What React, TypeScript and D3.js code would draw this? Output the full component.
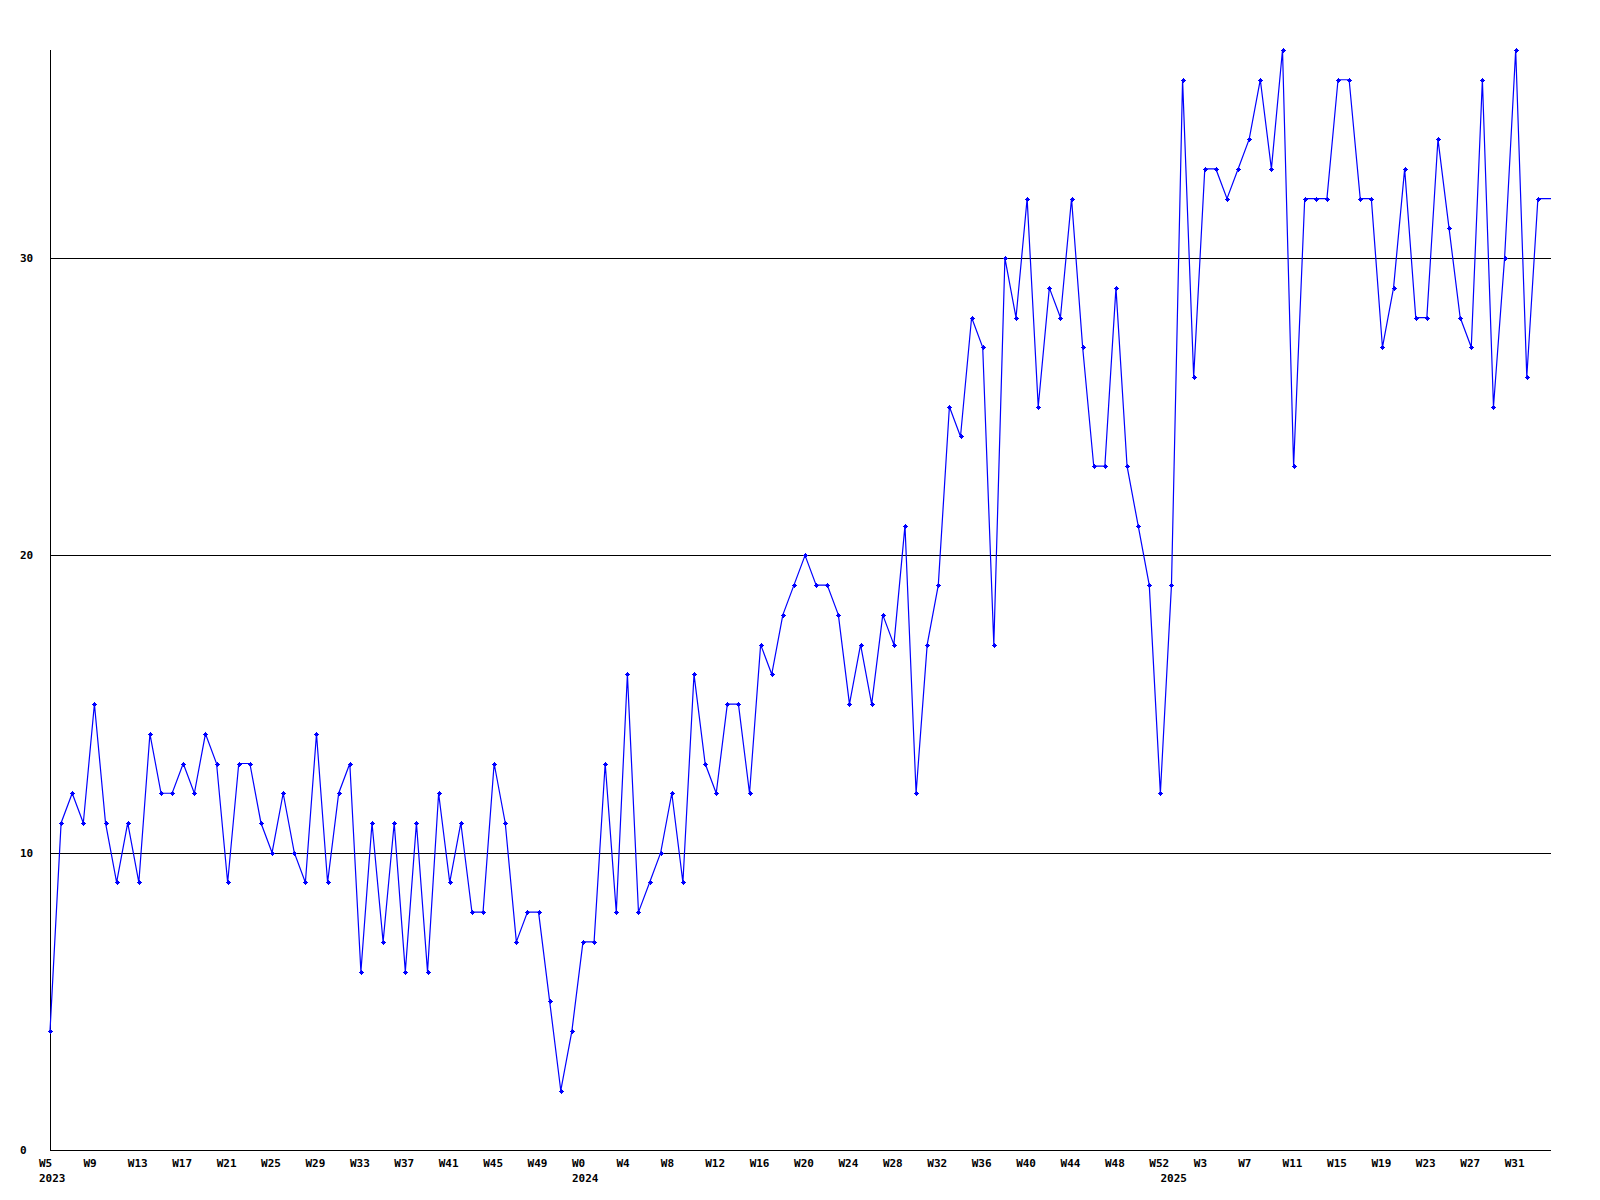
import React, { useEffect, useRef } from 'react';
import * as d3 from 'd3';

// weekly counts, W5 2023 .. W34 2025
const values: number[] = [
  4, 11, 12, 11, 15, 11, 9, 11, 9, 14, 12, 12, 13, 12, 14, 13, 9, 13, 13, 11,
  10, 12, 10, 9, 14, 9, 12, 13, 6, 11, 7, 11, 6, 11, 6, 12, 9, 11, 8, 8,
  13, 11, 7, 8, 8, 5, 2, 4, 7, 7, 13, 8, 16, 8, 9, 10, 12, 9, 16, 13,
  12, 15, 15, 12, 17, 16, 18, 19, 20, 19, 19, 18, 15, 17, 15, 18, 17, 21, 12, 17,
  19, 25, 24, 28, 27, 17, 30, 28, 32, 25, 29, 28, 32, 27, 23, 23, 29, 23, 21, 19,
  12, 19, 36, 26, 33, 33, 32, 33, 34, 36, 33, 37, 23, 32, 32, 32, 36, 36, 32, 32,
  27, 29, 33, 28, 28, 34, 31, 28, 27, 36, 25, 30, 37, 26, 32,
];

// one label every 4 weeks, starting at the first point
const tickLabels: string[] = [
  'W5', 'W9', 'W13', 'W17', 'W21', 'W25', 'W29', 'W33', 'W37', 'W41', 'W45', 'W49',
  'W0', 'W4', 'W8', 'W12', 'W16', 'W20', 'W24', 'W28', 'W32', 'W36', 'W40', 'W44', 'W48', 'W52',
  'W3', 'W7', 'W11', 'W15', 'W19', 'W23', 'W27', 'W31',
];
const tickStep = 4;

// year labels at the first week of each year
const yearLabels: string[] = ['2023', '2024', '2025'];
const yearStartIndex: number[] = [0, 48, 101];

const yTicks: number[] = [0, 10, 20, 30];

const WIDTH = 1600;
const HEIGHT = 1200;

const WeeklyChart: React.FC = () => {
  const svgRef = useRef<SVGSVGElement>(null);

  useEffect(() => {
    if (!svgRef.current) return;
    const svg = d3.select(svgRef.current);
    svg.selectAll('*').remove();

    const left = 50;
    const top = 50;
    const bottom = 1150;

    const x = d3.scaleLinear().domain([0, values.length]).range([left, 1549]);
    const y = d3.scaleLinear().domain([0, 37]).range([bottom, top]);
    const px = (v: number) => Math.round(v) + 0.5;
    const [x0, x1] = x.range();

    svg.append('rect').attr('width', WIDTH).attr('height', HEIGHT).attr('fill', '#fff');

    const font = '"DejaVu Sans Mono", "Liberation Mono", monospace';

    // grid lines
    svg.append('g')
      .selectAll('line')
      .data(yTicks.filter(t => t > 0))
      .enter()
      .append('line')
      .attr('x1', x0)
      .attr('x2', x1 + 2)
      .attr('y1', d => px(y(d)))
      .attr('y2', d => px(y(d)))
      .attr('stroke', '#000')
      .attr('stroke-width', 1)
      .attr('shape-rendering', 'crispEdges');

    // axes
    svg.append('line')
      .attr('x1', px(x0)).attr('x2', px(x0))
      .attr('y1', top).attr('y2', bottom + 1)
      .attr('stroke', '#000')
      .attr('shape-rendering', 'crispEdges');
    svg.append('line')
      .attr('x1', x0).attr('x2', x1 + 2)
      .attr('y1', px(y(0))).attr('y2', px(y(0)))
      .attr('stroke', '#000')
      .attr('shape-rendering', 'crispEdges');

    // y labels
    svg.append('g')
      .selectAll('text')
      .data(yTicks)
      .enter()
      .append('text')
      .attr('x', 20)
      .attr('y', d => y(d) + 4)
      .style('font-family', font)
      .style('font-size', '11px')
      .style('font-weight', 'bold')
      .text(d => String(d));

    // x labels
    svg.append('g')
      .selectAll('text')
      .data(tickLabels)
      .enter()
      .append('text')
      .attr('x', (_, i) => x(i * tickStep) - 11)
      .attr('y', 1167)
      .style('font-family', font)
      .style('font-size', '11px')
      .style('font-weight', 'bold')
      .text(d => d);

    svg.append('g')
      .selectAll('text')
      .data(yearLabels)
      .enter()
      .append('text')
      .attr('x', (_, i) => x(yearStartIndex[i]) - 11)
      .attr('y', 1182)
      .style('font-family', font)
      .style('font-size', '11px')
      .style('font-weight', 'bold')
      .text(d => d);

    // series line, carried on to the right edge at the last value
    const pts: [number, number][] = values.map((v, i) => [x(i), y(v)]);
    pts.push([x1 + 2, y(values[values.length - 1])]);

    svg.append('path')
      .attr('d', d3.line()(pts) as string)
      .attr('fill', 'none')
      .attr('stroke', '#0000ff')
      .attr('stroke-width', 1.2);

    // point markers
    svg.append('g')
      .selectAll('path')
      .data(values)
      .enter()
      .append('path')
      .attr('d', (d, i) => {
        const cx = Math.round(x(i));
        const cy = Math.round(y(d));
        return `M${cx - 2.5},${cy - 0.5}h5v1h-5z M${cx - 0.5},${cy - 2.5}h1v5h-1z M${cx - 1.5},${cy - 1.5}h3v3h-3z`;
      })
      .attr('fill', '#0000ff')
      .attr('shape-rendering', 'crispEdges');
  }, []);

  return <svg ref={svgRef} width={WIDTH} height={HEIGHT} style={{ display: 'block' }} />;
};

export default function App() {
  return (
    <div style={{ position: 'absolute', left: 0, top: 0 }}>
      <WeeklyChart />
    </div>
  );
}
